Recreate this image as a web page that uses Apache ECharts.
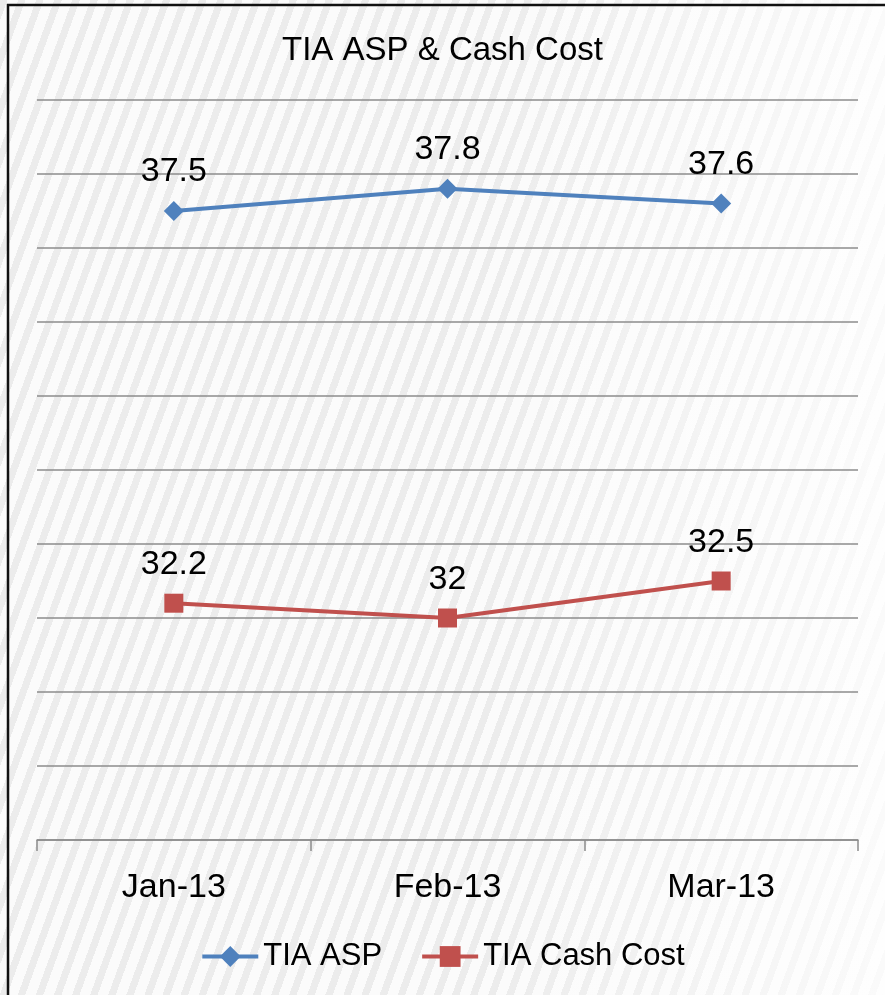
<!DOCTYPE html>
<html>
<head>
    <meta charset="utf-8">
    <title>TIA ASP & Cash Cost</title>
    <script src="https://cdn.jsdelivr.net/npm/echarts@6/dist/echarts.min.js"></script>
    <style>
        html, body { margin: 0; padding: 0; background: #f4f4f4; }
        #main {
            width: 885px; height: 995px;
            background:
                linear-gradient(to right, rgba(255,255,255,0) 55%, rgba(255,255,255,0.75) 100%),
                repeating-linear-gradient(110deg, #ececec 0 7px, #fbfbfb 7px 17px);
        }
    </style>
</head>
<body>
<div id="main"></div>

<script type="text/javascript">
    // 数据
    var months = ['Jan-13', 'Feb-13', 'Mar-13'];
    var aspValues = [37.5, 37.8, 37.6];
    var cashCostValues = [32.2, 32, 32.5];
    var seriesNames = ['TIA ASP', 'TIA Cash Cost'];

    var myChart = echarts.init(document.getElementById('main'));

    myChart.setOption({
        backgroundColor: 'transparent',
        title: {
            text: 'TIA ASP & Cash Cost',
            left: 'center',
            top: 29,
            textStyle: {
                fontFamily: 'Liberation Sans',
                fontSize: 33,
                fontWeight: 'normal',
                color: '#000'
            }
        },
        legend: {
            data: seriesNames,
            bottom: 18,
            left: 'center',
            itemWidth: 56,
            itemHeight: 26,
            itemGap: 38,
            lineStyle: { width: 'inherit' },
            textStyle: {
                fontFamily: 'Liberation Sans',
                fontSize: 31,
                color: '#000'
            }
        },
        grid: {
            left: 37,
            right: 27,
            top: 100,
            bottom: 155
        },
        xAxis: {
            type: 'category',
            data: months,
            axisLine: { lineStyle: { color: '#8c8c8c', width: 1.5 } },
            axisTick: { show: true, length: 11, lineStyle: { color: '#8c8c8c', width: 1.5 } },
            axisLabel: {
                margin: 31,
                fontFamily: 'Liberation Sans',
                fontSize: 34,
                color: '#000'
            }
        },
        yAxis: {
            type: 'value',
            min: 29,
            max: 39,
            interval: 1,
            axisLabel: { show: false },
            axisLine: { show: false },
            axisTick: { show: false },
            splitLine: { lineStyle: { color: '#8c8c8c', width: 1.5 } }
        },
        graphic: [{
            type: 'polyline',
            shape: { points: [[8, 995], [8, 5], [885, 5]] },
            style: { stroke: '#111', lineWidth: 2.5, fill: null }
        }],
        series: [{
            name: seriesNames[0],
            type: 'line',
            data: aspValues,
            color: '#4F81BD',
            symbol: 'diamond',
            symbolSize: 20,
            lineStyle: { width: 4 },
            label: {
                show: true,
                position: 'top',
                distance: 12,
                fontFamily: 'Liberation Sans',
                fontSize: 34,
                color: '#000'
            }
        }, {
            name: seriesNames[1],
            type: 'line',
            data: cashCostValues,
            color: '#C0504D',
            symbol: 'rect',
            symbolSize: 19,
            lineStyle: { width: 4 },
            label: {
                show: true,
                position: 'top',
                distance: 12,
                fontFamily: 'Liberation Sans',
                fontSize: 34,
                color: '#000'
            }
        }]
    });
</script>
</body>
</html>
